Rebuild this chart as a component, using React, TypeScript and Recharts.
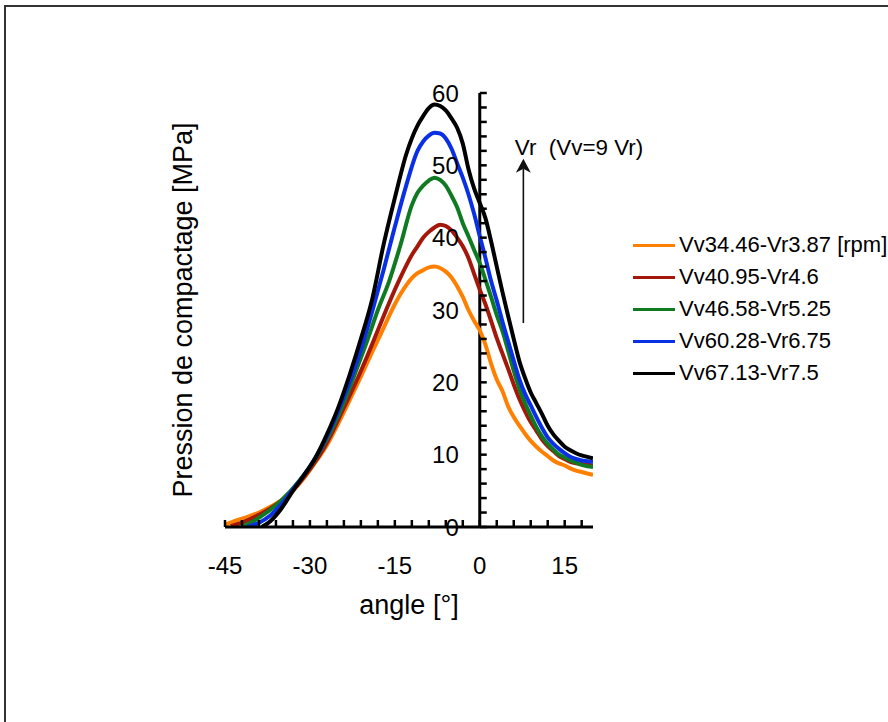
import React from 'react';
import { LineChart, Line, XAxis, YAxis, ReferenceLine, ReferenceDot, Legend } from 'recharts';

const FONT = '"Liberation Sans", Arial, Helvetica, sans-serif';

// ---- data (angle in degrees, pressure in MPa) ----
const ORANGE_ANGLES = [-45, -43, -41, -39, -37, -35, -33, -31, -29, -27, -25, -23, -21, -19, -17, -15, -13, -12, -11, -10, -9, -8, -7, -6, -5, -4, -3, -2, -1, 0, 1, 2, 3, 4, 5, 6, 7, 8, 9, 10, 11, 12, 13, 14, 15, 16, 17, 18, 19, 20];
const ORANGE_VALUES = [0.3, 0.9, 1.4, 2.0, 2.8, 3.7, 5.0, 6.8, 9.0, 11.3, 14.3, 17.5, 20.8, 24.2, 27.5, 30.8, 33.4, 34.4, 35.1, 35.5, 35.9, 36.0, 35.8, 35.3, 34.5, 33.3, 31.8, 30.0, 28.5, 27.2, 25.2, 22.6, 20.4, 18.8, 16.7, 15.2, 14.0, 12.9, 11.9, 11.1, 10.4, 9.8, 9.2, 8.8, 8.5, 8.1, 7.8, 7.6, 7.4, 7.2];

const RED_ANGLES = [-44, -42, -40, -38, -36, -34, -32, -30, -28, -26, -24, -22, -20, -18, -16, -14, -12, -11, -10, -9, -8, -7, -6, -5, -4, -3, -2, -1, 0, 1, 2, 3, 4, 5, 6, 7, 8, 9, 10, 11, 12, 13, 14, 15, 16, 17, 18, 19, 20];
const RED_VALUES = [0.1, 0.6, 1.3, 2.1, 3.1, 4.3, 6.0, 8.0, 10.3, 13.2, 16.5, 19.8, 23.4, 27.2, 31.0, 34.5, 37.6, 38.8, 40.0, 40.8, 41.4, 41.8, 41.6, 41.0, 40.0, 38.8, 37.2, 35.0, 32.8, 30.8, 28.5, 26.1, 24.0, 21.9, 19.7, 17.7, 16.0, 14.5, 13.3, 12.1, 11.2, 10.5, 9.8, 9.4, 9.0, 8.8, 8.7, 8.6, 8.5];

const GREEN_ANGLES = [-42, -40, -38, -36, -34, -32, -30, -28, -26, -24, -22, -20, -18, -16, -14, -12, -11, -10, -9, -8, -7, -6, -5, -4, -3, -2, -1, 0, 1, 2, 3, 4, 5, 6, 7, 8, 9, 10, 11, 12, 13, 14, 15, 16, 17, 18, 19, 20];
const GREEN_VALUES = [0, 0.8, 1.8, 3.0, 4.5, 6.3, 8.3, 10.8, 13.7, 17.2, 21.3, 25.5, 30.0, 34.0, 39.0, 44.5, 46.2, 47.2, 47.9, 48.3, 48.0, 47.2, 45.8, 44.2, 42.0, 40.2, 38.3, 36.5, 34.2, 31.8, 29.3, 27.1, 24.4, 21.6, 19.1, 17.1, 15.4, 13.8, 12.5, 11.5, 10.7, 10.0, 9.6, 9.2, 8.9, 8.6, 8.4, 8.3];

const BLUE_ANGLES = [-41, -39, -37, -35, -33, -31, -29, -27, -25, -23, -21, -19, -17, -15, -13, -11, -10, -9, -8, -7, -6, -5, -4, -3, -2, -1, 0, 1, 2, 3, 4, 5, 6, 7, 8, 9, 10, 11, 12, 13, 14, 15, 16, 17, 18, 19, 20];
const BLUE_VALUES = [0, 0.6, 1.6, 3.2, 5.2, 7.2, 9.6, 12.5, 16.0, 20.0, 24.5, 29.8, 35.5, 41.5, 47.2, 52.0, 53.3, 54.1, 54.5, 54.4, 53.7, 52.3, 50.3, 48.3, 46.0, 43.3, 40.2, 37.2, 34.0, 31.3, 28.4, 25.7, 23.0, 20.4, 18.4, 16.8, 15.2, 13.7, 12.4, 11.5, 10.8, 10.2, 9.7, 9.4, 9.2, 9.1, 9.0];

const BLACK_ANGLES = [-38.5, -37, -35, -33, -31, -29, -27, -25, -23, -21, -19, -17, -15, -13, -11, -10, -9, -8, -7, -6, -5, -4, -3, -2, -1, 0, 1, 2, 3, 4, 5, 6, 7, 8, 9, 10, 11, 12, 13, 14, 15, 16, 17, 18, 19, 20];
const BLACK_VALUES = [0, 0.8, 2.6, 5.0, 7.2, 9.6, 12.8, 16.5, 21.0, 26.0, 31.5, 39.0, 45.5, 51.5, 55.5, 56.8, 57.9, 58.4, 58.2, 57.6, 56.5, 55.2, 53.0, 49.5, 46.8, 44.8, 42.7, 39.5, 36.0, 32.5, 29.2, 26.0, 22.9, 20.6, 18.6, 17.1, 15.6, 14.0, 12.8, 11.9, 11.1, 10.6, 10.2, 9.9, 9.7, 9.5];

const SERIES_NAMES = ['Vv34.46-Vr3.87 [rpm]', 'Vv40.95-Vr4.6', 'Vv46.58-Vr5.25', 'Vv60.28-Vr6.75', 'Vv67.13-Vr7.5'];
const SERIES_COLORS = ['#FF8000', '#A3180A', '#0F7A22', '#0A30E6', '#000000'];

const X_TICKS = [-45, -42, -39, -36, -33, -30, -27, -24, -21, -18, -15, -12, -9, -6, -3, 0, 3, 6, 9, 12, 15, 18];
const Y_TICKS = [0, 2, 4, 6, 8, 10, 12, 14, 16, 18, 20, 22, 24, 26, 28, 30, 32, 34, 36, 38, 40, 42, 44, 46, 48, 50, 52, 54, 56, 58, 60];

const X_TITLE = 'angle [°]';
const Y_TITLE = 'Pression de compactage [MPa]';
const ANNOTATION = 'Vr  (Vv=9 Vr)';
const ARROW_ANGLE = 7.7;
const ARROW_FROM = 28.2;
const ARROW_TO = 50.9;

const build = (angles: number[], values: number[]) => angles.map((a, i) => ({ angle: a, p: values[i] }));
const SERIES = [
  build(ORANGE_ANGLES, ORANGE_VALUES),
  build(RED_ANGLES, RED_VALUES),
  build(GREEN_ANGLES, GREEN_VALUES),
  build(BLUE_ANGLES, BLUE_VALUES),
  build(BLACK_ANGLES, BLACK_VALUES),
];

const XTick = (props: any) => {
  const { x, y, payload } = props;
  const v = payload.value;
  return (
    <g>
      <line x1={x} y1={y} x2={x} y2={y - 7} stroke="#000" strokeWidth={2.5} />
      {v % 15 === 0 && (
        <text x={x} y={y + 38} textAnchor="middle" dominantBaseline="central" fontSize={24} fontFamily={FONT} fill="#000">
          {v}
        </text>
      )}
    </g>
  );
};

const XTitle = (props: any) => {
  const vb = props.viewBox;
  return (
    <text x={vb.x + vb.width / 2} y={vb.y + 87} textAnchor="middle" fontSize={27} fontFamily={FONT} fill="#000">
      {X_TITLE}
    </text>
  );
};

const YTitle = (props: any) => {
  const vb = props.viewBox;
  return (
    <text
      x={0}
      y={0}
      transform={`translate(${vb.x + 12}, ${vb.y + vb.height / 2}) rotate(-90)`}
      textAnchor="middle"
      fontSize={27}
      fontFamily={FONT}
      fill="#000"
    >
      {Y_TITLE}
    </text>
  );
};

const YTickShape = (v: number) => (p: any) => (
  <g>
    <line x1={p.cx} y1={p.cy} x2={p.cx + 7} y2={p.cy} stroke="#000" strokeWidth={2.5} />
    {v % 10 === 0 && (
      <text x={p.cx - 21} y={p.cy} textAnchor="end" dominantBaseline="central" fontSize={24} fontFamily={FONT} fill="#000">
        {v}
      </text>
    )}
  </g>
);

const ArrowShape = (p: any) => {
  const { x1, y1, x2, y2 } = p;
  return (
    <g>
      <line x1={x1} y1={y1} x2={x2} y2={y2 + 10} stroke="#111" strokeWidth={1.6} />
      <path d={`M ${x2} ${y2} L ${x2 - 7.5} ${y2 + 14} L ${x2} ${y2 + 10} L ${x2 + 7.5} ${y2 + 14} Z`} fill="#111" />
      <text x={x2 - 8.5} y={y2 - 4} fontSize={22.4} fontFamily={FONT} fill="#000" style={{ whiteSpace: 'pre' }} xmlSpace="preserve">
        {ANNOTATION}
      </text>
    </g>
  );
};

const LegendContent = (props: any) => {
  const { payload } = props;
  return (
    <div style={{ fontFamily: FONT, fontSize: 22, color: '#000' }}>
      {(payload || []).map((e: any) => (
        <div key={e.value} style={{ display: 'flex', alignItems: 'center', height: 32, whiteSpace: 'nowrap' }}>
          <span style={{ display: 'inline-block', width: 42, height: 3, background: e.color, marginRight: 4 }} />
          <span>{e.value}</span>
        </div>
      ))}
    </div>
  );
};

export default function App() {
  return (
    <div style={{ position: 'absolute', left: 0, top: 0, width: 888, height: 722, overflow: 'hidden', background: '#fff' }}>
      <div
        style={{
          position: 'absolute',
          left: 4,
          top: 5,
          width: 900,
          height: 800,
          borderTop: '2px solid #333',
          borderLeft: '2px solid #333',
        }}
      />
      <div style={{ position: 'absolute', left: 0, top: 0 }}>
        <LineChart width={888} height={722} margin={{ top: 93, right: 295, bottom: 95, left: 180 }}>
          <XAxis
            type="number"
            dataKey="angle"
            domain={[-45, 20]}
            ticks={X_TICKS}
            interval={0}
            tickSize={0}
            tickMargin={0}
            tickLine={false}
            axisLine={{ stroke: '#000', strokeWidth: 3 }}
            tick={(p: any) => <XTick {...p} />}
            height={100}
            allowDataOverflow
            label={XTitle}
          />
          <YAxis
            type="number"
            domain={[0, 60]}
            width={45}
            axisLine={false}
            tickLine={false}
            tick={false}
            allowDataOverflow
            label={YTitle}
          />
          <ReferenceLine x={0} stroke="#000" strokeWidth={3} ifOverflow="visible" />
          {Y_TICKS.map((v) => (
            <ReferenceDot key={v} x={0} y={v} r={0} ifOverflow="visible" shape={YTickShape(v)} />
          ))}
          <ReferenceLine
            segment={[
              { x: ARROW_ANGLE, y: ARROW_FROM },
              { x: ARROW_ANGLE, y: ARROW_TO },
            ]}
            ifOverflow="visible"
            shape={ArrowShape}
          />
          {SERIES.map((d, i) => (
            <Line
              key={SERIES_NAMES[i]}
              data={d}
              dataKey="p"
              name={SERIES_NAMES[i]}
              type="monotone"
              stroke={SERIES_COLORS[i]}
              strokeWidth={4}
              dot={false}
              activeDot={false}
              isAnimationActive={false}
            />
          ))}
          <Legend
            layout="horizontal"
            verticalAlign="middle"
            align="center"
            wrapperStyle={{ position: 'absolute', left: 633, top: 229, width: 255 }}
            content={LegendContent}
          />
        </LineChart>
      </div>
    </div>
  );
}
